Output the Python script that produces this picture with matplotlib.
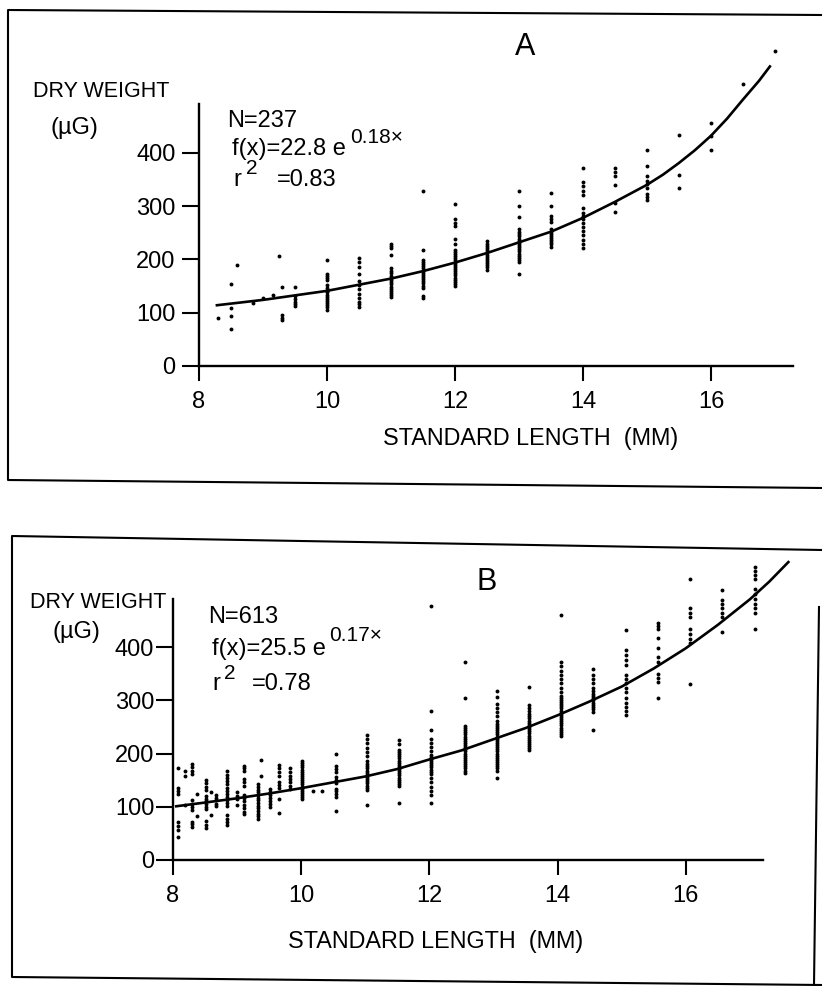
import matplotlib
matplotlib.use("Agg")
import matplotlib.pyplot as plt
from matplotlib.lines import Line2D

plt.rcParams['font.family'] = ['Liberation Sans', 'DejaVu Sans']

# ---------------- DATA ----------------
x_ticks = [8, 10, 12, 14, 16]
y_ticks = [0, 100, 200, 300, 400]

# Panel A: scatter columns (standard length) and dry weights per column
a_cols = [8.3, 8.5, 8.6, 8.85, 9.0, 9.15, 9.25, 9.3, 9.5, 10.0, 10.5, 11.0, 11.5, 12.0,
          12.5, 13.0, 13.5, 14.0, 14.5, 15.0, 15.5, 16.0, 16.5, 17.0]
a_vals = [
    [90],
    [69, 93, 109, 153],
    [189],
    [118],
    [127],
    [134],
    [206],
    [86, 90, 95, 148],
    [112, 117, 121, 126, 131, 148],
    [106, 110, 114, 118, 122, 126, 130, 134, 138, 141, 146, 152, 161, 165, 169, 173, 198],
    [111, 116, 121, 128, 136, 144, 152, 159, 173, 186, 195, 203],
    [129, 133, 137, 141, 145, 149, 153, 157, 161, 165, 169, 175, 179, 183, 208, 222, 225, 228],
    [128, 131, 147, 151, 155, 159, 163, 167, 171, 175, 179, 183, 187, 191, 195, 199, 217, 328],
    [150, 154, 158, 162, 166, 170, 174, 178, 182, 186, 190, 194, 198, 202, 206, 210, 214, 218,
     228, 239, 263, 269, 275, 304],
    [181, 185, 189, 193, 197, 201, 205, 209, 213, 217, 221, 225, 229, 234],
    [173, 195, 199, 203, 207, 211, 215, 219, 223, 227, 231, 235, 239, 243, 247, 251, 257,
     279, 301, 329],
    [224, 228, 232, 236, 240, 244, 248, 252, 257, 271, 276, 281, 301, 325],
    [221, 229, 237, 245, 253, 261, 269, 275, 281, 287, 296, 321, 329, 337, 346, 371],
    [289, 306, 340, 356, 364, 372],
    [312, 317, 322, 334, 341, 348, 356, 376, 405],
    [334, 359, 434],
    [406, 432, 455],
    [529],
    [591],
]
# Panel A fitted curve
a_curve_x = [8.28, 9.0, 10.0, 11.0, 11.5, 12.0, 12.5, 13.0, 13.5, 14.0, 14.5, 15.0, 15.25,
             15.5, 15.75, 16.0, 16.25, 16.5, 16.75, 16.92]
a_curve_y = [114, 124, 141, 164, 178, 194, 212, 232, 252, 278, 308, 340, 359,
             381, 405, 432, 464, 500, 535, 562]

# Panel B: scatter columns and dry weights
b_cols = [8.08, 8.18, 8.3, 8.37, 8.51, 8.6, 8.67, 8.84, 9.0, 9.1, 9.32, 9.38, 9.52, 9.66,
          9.83, 10.02, 10.18, 10.32, 10.54, 11.03, 11.53, 12.03, 12.55, 13.05, 13.56,
          14.06, 14.55, 15.06, 15.56, 16.07, 16.57, 17.08]
b_vals = [
    [43, 56, 64, 72, 125, 130, 135, 172],
    [103, 158, 168],
    [62, 67, 72, 94, 100, 106, 113, 162, 168, 174, 180],
    [82, 124],
    [60, 66, 73, 95, 100, 105, 110, 115, 120, 132, 138, 144, 151],
    [84, 127],
    [101, 106, 112, 117, 123],
    [66, 72, 78, 85, 102, 107, 112, 118, 124, 130, 136, 142, 148, 154, 160, 168],
    [103, 115, 121, 127],
    [86, 91, 97, 103, 110, 116, 122, 140, 147, 153, 168, 172, 177],
    [77, 82, 87, 92, 97, 102, 107, 112, 117, 122, 127, 132, 137, 143],
    [157, 188],
    [100, 106, 111, 117, 122, 128, 134],
    [89, 114, 135, 141, 147, 157, 165, 172, 179],
    [134, 140, 146, 152, 158, 165, 172],
    [114, 118, 122, 126, 130, 134, 138, 142, 146, 150, 154, 158, 162, 166, 170, 174, 178, 182, 186],
    [129],
    [129],
    [93, 118, 124, 129, 134, 144, 150, 156, 166, 171, 177, 200],
    [104, 132, 136, 140, 144, 148, 152, 156, 160, 164, 168, 172, 176, 180, 187, 195, 203, 211,
     219, 227, 235],
    [108, 139, 143, 147, 151, 155, 159, 163, 167, 171, 175, 179, 183, 187, 191, 195, 199, 203,
     207, 218, 225],
    [108, 122, 130, 138, 146, 154, 162, 166, 170, 174, 178, 182, 186, 190, 194, 197, 204, 212,
     220, 228, 244, 280, 477],
    [164, 168, 172, 176, 180, 184, 188, 192, 196, 200, 204, 208, 212, 216, 220, 224, 228, 232,
     236, 240, 244, 248, 251, 304, 372],
    [154, 168, 172, 176, 180, 184, 188, 192, 196, 200, 204, 208, 212, 216, 220, 224, 228, 232,
     236, 240, 244, 248, 252, 256, 262, 270, 278, 286, 294, 306, 317],
    [206, 210, 214, 218, 222, 226, 230, 234, 238, 242, 246, 250, 254, 258, 262, 266, 270, 275,
     280, 285, 291, 326],
    [233, 237, 241, 245, 249, 253, 257, 261, 265, 269, 273, 277, 281, 285, 289, 293, 297, 301,
     305, 308, 316, 324, 332, 340, 348, 356, 364, 372, 461],
    [245, 278, 284, 288, 292, 296, 300, 304, 308, 312, 318, 324, 332, 340, 348, 359],
    [272, 280, 288, 296, 304, 316, 324, 332, 340, 348, 367, 376, 385, 395, 432],
    [304, 334, 342, 350, 373, 382, 398, 417, 434, 440, 446],
    [331, 408, 416, 424, 435, 457, 465, 474, 529],
    [428, 457, 465, 473, 481, 489, 508],
    [435, 465, 473, 481, 490, 500, 509, 528, 536, 543, 550],
]
b_curve_x = [8.05, 8.5, 9.0, 9.5, 10.0, 10.5, 11.0, 11.5, 12.0, 12.5, 13.0, 13.5, 14.0,
             14.5, 15.0, 15.5, 16.0, 16.5, 17.0, 17.3, 17.6]
b_curve_y = [101, 108, 116, 125, 135, 146, 157, 171, 189, 206, 227, 248, 272, 298, 326,
             360, 398, 442, 490, 523, 560]

# ---------------- FIGURE ----------------
W, H = 822, 986
fig = plt.figure(figsize=(W / 100, H / 100), dpi=100)


def px_axes(left, right, bottom, top):
    return fig.add_axes([left / W, 1 - bottom / H, (right - left) / W, (bottom - top) / H])


def ftxt(x, y, s, size=17, **kw):
    fig.text(x / W, 1 - y / H, s, fontsize=size, va='baseline', ha='left', **kw)


def fline(xs, ys, lw=1.5):
    fig.add_artist(Line2D([x / W for x in xs], [1 - y / H for y in ys], color='black',
                          lw=lw, transform=fig.transFigure))


def flatten(cols, vals):
    xs, ys = [], []
    for c, v in zip(cols, vals):
        for y in v:
            xs.append(c)
            ys.append(y)
    return xs, ys


def style_axes(ax, xmax_spine, ylab_pad):
    ax.set_ylim(0, 600)
    for s in ['top', 'right']:
        ax.spines[s].set_visible(False)
    ax.spines['left'].set_bounds(0, 491)
    ax.spines['bottom'].set_bounds(8, xmax_spine)
    for s in ['left', 'bottom']:
        ax.spines[s].set_linewidth(1.7)
    ax.set_xticks(x_ticks)
    ax.set_yticks(y_ticks)
    ax.set_xticklabels([str(t) for t in x_ticks])
    ax.set_yticklabels([str(t) for t in y_ticks])
    ax.tick_params(axis='x', direction='out', length=11, width=1.5, pad=7, labelsize=17)
    ax.tick_params(axis='y', direction='out', length=12, width=1.5, pad=ylab_pad, labelsize=17)
    ax.patch.set_alpha(0)


# Panel A
axA = px_axes(199, 199 + 9.6 * 64, 366, 366 - 600 * 0.533)
axA.set_xlim(8, 17.6)
style_axes(axA, 17.28, 5)
xa, ya = flatten(a_cols, a_vals)
axA.plot(xa, ya, 'o', color='black', ms=2.8, mew=0, clip_on=False)
axA.plot(a_curve_x, a_curve_y, '-', color='black', lw=1.9, clip_on=False)

# Panel B
axB = px_axes(173, 173 + 9.8 * 64.1, 860, 860 - 600 * 0.532)
axB.set_xlim(8, 17.8)
style_axes(axB, 17.2, 1.5)
xb, yb = flatten(b_cols, b_vals)
axB.plot(xb, yb, 'o', color='black', ms=2.8, mew=0, clip_on=False)
axB.plot(b_curve_x, b_curve_y, '-', color='black', lw=1.9, clip_on=False)

# Texts panel A
ftxt(33, 97, 'DRY WEIGHT', size=15.5)
ftxt(50, 134, '(µG)')
ftxt(227, 127, 'N=237')
ftxt(232, 155, 'f(x)=22.8 e')
ftxt(350, 143, '0.18×', size=15)
ftxt(233, 186, 'r')
ftxt(246, 174, '2', size=15)
ftxt(277, 186, '=0.83')
ftxt(515, 55, 'A', size=22)
ftxt(383, 445, 'STANDARD LENGTH  (MM)', size=16.8)

# Texts panel B
ftxt(30, 608, 'DRY WEIGHT', size=15.5)
ftxt(52, 638, '(µG)')
ftxt(208, 623, 'N=613')
ftxt(212, 655, 'f(x)=25.5 e')
ftxt(329, 641, '0.17×', size=15)
ftxt(212, 690, 'r')
ftxt(224, 679, '2', size=15)
ftxt(252, 690, '=0.78')
ftxt(476, 590, 'B', size=22)
ftxt(288, 948, 'STANDARD LENGTH  (MM)', size=16.8)

# Panel frames
fline([822, 8, 8, 822], [15, 10, 480, 488])
fline([822, 12, 12, 822], [550, 536, 977, 985])
fline([819, 814], [607, 985])

fig.savefig('out.png', dpi=100)
